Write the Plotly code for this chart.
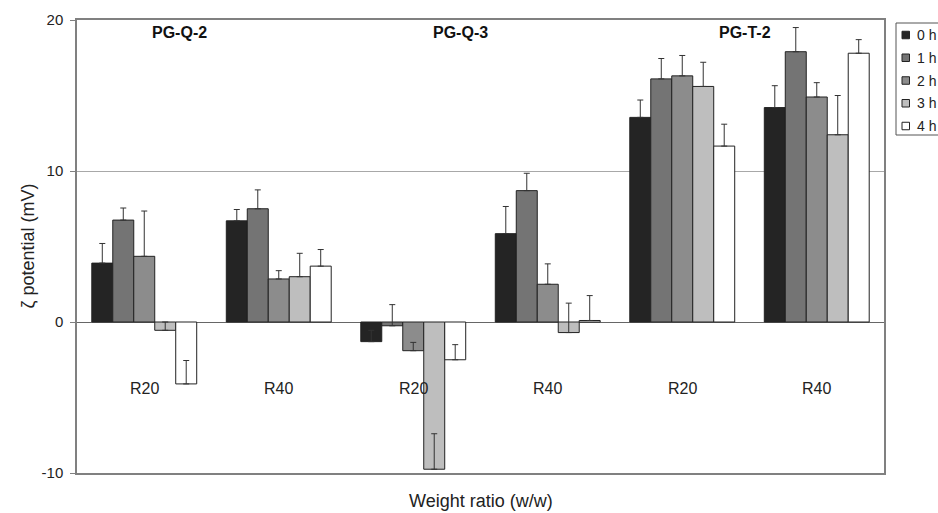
import plotly.graph_objects as go

# categories (weight ratio) and sample groups
ratios = ["R20", "R40", "R20", "R40", "R20", "R40"]
groups = ["PG-Q-2", "PG-Q-3", "PG-T-2"]
series_names = ["0 h", "1 h", "2 h", "3 h", "4 h"]
tick_values = [-10, 0, 10, 20]
tick_labels = ["-10", "0", "10", "20"]

h0 = [3.9, 6.7, -1.3, 5.85, 13.55, 14.2]
h1 = [6.75, 7.5, -0.25, 8.7, 16.1, 17.9]
h2 = [4.35, 2.85, -1.9, 2.5, 16.3, 14.9]
h3 = [-0.55, 3.0, -9.75, -0.7, 15.6, 12.4]
h4 = [-4.1, 3.7, -2.5, 0.1, 11.65, 17.8]

e0 = [1.3, 0.75, 0.75, 1.8, 1.15, 1.45]
e1 = [0.8, 1.25, 1.4, 1.15, 1.35, 1.6]
e2 = [3.0, 0.55, 0.55, 1.35, 1.35, 0.95]
e3 = [0.55, 1.55, 2.35, 1.95, 1.6, 2.6]
e4 = [1.55, 1.1, 1.0, 1.65, 1.45, 0.9]

values = [h0, h1, h2, h3, h4]
errors = [e0, e1, e2, e3, e4]
colors = ["#242424", "#747474", "#8c8c8c", "#bebebe", "#ffffff"]

FONT = "Liberation Sans, Arial, sans-serif"
xs = list(range(len(ratios)))

W, H = 938, 513
ML, MR, MT, MB = 77, 54, 20, 40
PW, PH = W - ML - MR, H - MT - MB


def px_x(px):
    return (px - ML) / PW


def px_y(py):
    return (H - MB - py) / PH


fig = go.Figure()
for name, v, e, c in zip(series_names, values, errors, colors):
    fig.add_trace(go.Bar(
        x=xs, y=v, name=name,
        marker=dict(color=c, line=dict(color="#222222", width=1)),
        error_y=dict(type="data", symmetric=False, array=e,
                     arrayminus=[0] * len(e), color="#333333",
                     thickness=1, width=3),
    ))

annotations = []
shapes = []
for i, r in enumerate(ratios):
    annotations.append(dict(x=i, y=-4.4, xref="x", yref="y", text=r,
                            showarrow=False, xanchor="center",
                            font=dict(family=FONT, size=16, color="#222222")))
group_x = [0.26, 2.35, 4.47]
for gx, g in zip(group_x, groups):
    annotations.append(dict(x=gx, y=19.2, xref="x", yref="y",
                            text="<b>" + g + "</b>", showarrow=False,
                            xanchor="center",
                            font=dict(family=FONT, size=16, color="#111111")))
annotations.append(dict(x=0.5, y=px_y(501), xref="paper", yref="paper",
                        text="Weight ratio (w/w)", showarrow=False,
                        xanchor="center", yanchor="middle",
                        font=dict(family=FONT, size=18, color="#222222")))
annotations.append(dict(x=px_x(27), y=0.5, xref="paper", yref="paper",
                        text="ζ potential (mV)", textangle=-90, showarrow=False,
                        xanchor="center", yanchor="middle",
                        font=dict(family=FONT, size=18, color="#222222")))

# hand-drawn legend (cut off by the right edge, like the original)
shapes.append(dict(type="rect", xref="paper", yref="paper",
                   x0=px_x(896), x1=px_x(960), y0=px_y(135), y1=px_y(23),
                   line=dict(color="#555555", width=1), fillcolor="white"))
for i, (name, c) in enumerate(zip(series_names, colors)):
    cy = 35 + 22.75 * i
    shapes.append(dict(type="rect", xref="paper", yref="paper",
                       x0=px_x(902), x1=px_x(909.5),
                       y0=px_y(cy + 3.75), y1=px_y(cy - 3.75),
                       line=dict(color="#222222", width=1), fillcolor=c))
    annotations.append(dict(x=px_x(915), y=px_y(cy), xref="paper", yref="paper",
                            text=name, showarrow=False, xanchor="left",
                            yanchor="middle",
                            font=dict(family=FONT, size=14, color="#222222")))

fig.update_layout(
    width=W, height=H,
    margin=dict(l=ML, r=MR, t=MT, b=MB),
    paper_bgcolor="white", plot_bgcolor="white",
    barmode="group", bargap=0.22, bargroupgap=0,
    font=dict(family=FONT, size=15, color="#222222"),
    showlegend=False,
    annotations=annotations,
    shapes=shapes,
    xaxis=dict(range=[-0.5, len(ratios) - 0.5], showticklabels=False,
               ticks="", showgrid=False, zeroline=False,
               showline=True, mirror=True, linecolor="#808080", linewidth=1.5),
    yaxis=dict(range=[-10, 20], tickvals=tick_values, ticktext=tick_labels,
               ticks="outside", ticklen=5, tickcolor="#808080",
               ticklabelstandoff=4,
               showline=True, mirror=True, linecolor="#808080", linewidth=1.5,
               showgrid=True, gridcolor="#a8a8a8", gridwidth=1,
               zeroline=True, zerolinecolor="#666666", zerolinewidth=1,
               tickfont=dict(family=FONT, size=15, color="#222222")),
)

fig.write_html("out.html")
